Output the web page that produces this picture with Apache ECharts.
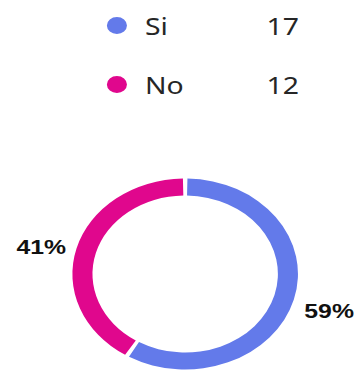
<!DOCTYPE html>
<html>
<head>
<meta charset="utf-8">
<script src="https://cdn.jsdelivr.net/npm/echarts@6/dist/echarts.min.js"></script>
<style>
html,body{margin:0;padding:0;background:#fff;overflow:hidden;width:359px;height:370px;}
#wrap{width:304px;height:370px;transform:scaleX(1.181);transform-origin:0 0;}
</style>
</head>
<body>
<div id="wrap"></div>
<script>
const categories = ['Si', 'No'];
const values = [17, 12];
const colors = ['#637aea', '#e0078d'];

const chart = echarts.init(document.getElementById('wrap'), null, {renderer: 'svg'});
const data = categories.map((c, i) => ({name: c, value: values[i], itemStyle: {color: colors[i]}}));

chart.setOption({
  animation: false,
  legend: {
    orient: 'vertical',
    left: 85.5,
    top: 8.5,
    itemWidth: 19.5,
    itemHeight: 17,
    itemGap: 35,
    icon: 'path://M0 50A50 50 0 1 1 100 50A50 50 0 1 1 0 50Z',
    selectedMode: false,
    formatter: function (name) {
      const i = categories.indexOf(name);
      return '{n|' + name + '}{v|' + values[i] + '}';
    },
    textStyle: {
      padding: [0, 0, 0, 9],
      rich: {
        n: {fontFamily: 'Noto Sans', fontSize: 24, color: '#262626', width: 103, lineHeight: 30},
        v: {fontFamily: 'Noto Sans', fontSize: 24, color: '#262626', lineHeight: 30}
      }
    }
  },
  series: [{
    type: 'pie',
    center: [156.8, 274],
    radius: [78.5, 95.5],
    startAngle: 90,
    clockwise: true,
    padAngle: 2.3,
    avoidLabelOverlap: false,
    data: data,
    label: {
      show: true,
      position: 'outside',
      formatter: function (p) { return Math.round(p.percent) + '%'; },
      fontFamily: 'Liberation Sans',
      fontWeight: 'bold',
      fontSize: 21,
      color: '#111'
    },
    labelLine: {show: false, length: 4, length2: 0},
    labelLayout: function (p) { return p.dataIndex === 0 ? {dy: 10} : {dy: -1}; },
    emphasis: {disabled: true}
  }]
});
</script>
</body>
</html>
